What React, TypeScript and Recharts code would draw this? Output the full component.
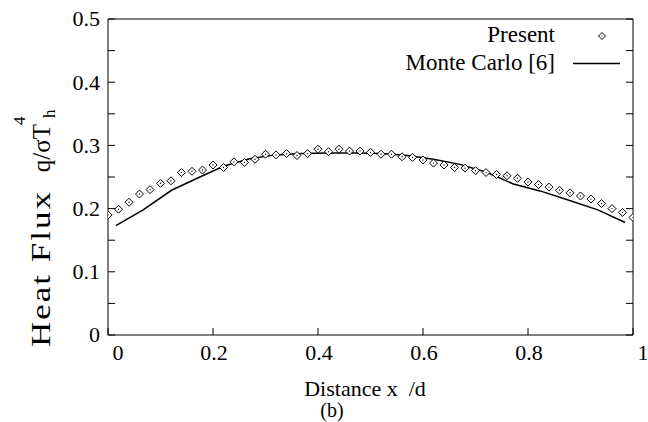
import React from "react"
import { ComposedChart, Line, Scatter, XAxis, YAxis, Legend } from "recharts"

const presentX = [
  0, 0.02, 0.04, 0.06, 0.08, 0.1, 0.12, 0.14, 0.16, 0.18,
  0.2, 0.22, 0.24, 0.26, 0.28, 0.3, 0.32, 0.34, 0.36, 0.38,
  0.4, 0.42, 0.44, 0.46, 0.48, 0.5, 0.52, 0.54, 0.56, 0.58,
  0.6, 0.62, 0.64, 0.66, 0.68, 0.7, 0.72, 0.74, 0.76, 0.78,
  0.8, 0.82, 0.84, 0.86, 0.88, 0.9, 0.92, 0.94, 0.96, 0.98,
  1,
]
const presentY = [
  0.19, 0.199, 0.21, 0.223, 0.23, 0.24, 0.244, 0.257, 0.259, 0.261,
  0.269, 0.265, 0.274, 0.273, 0.278, 0.286, 0.285, 0.287, 0.284, 0.287,
  0.294, 0.29, 0.294, 0.291, 0.291, 0.289, 0.286, 0.286, 0.282, 0.281,
  0.277, 0.272, 0.269, 0.265, 0.264, 0.26, 0.257, 0.254, 0.252, 0.248,
  0.242, 0.238, 0.234, 0.229, 0.225, 0.22, 0.215, 0.208, 0.2, 0.194,
  0.186,
]

const monteX = [
  0.015, 0.067, 0.121, 0.175, 0.22, 0.27, 0.32, 0.37, 0.42, 0.47,
  0.52, 0.57, 0.62, 0.67, 0.72, 0.772, 0.823, 0.875, 0.933, 0.985,
]
const monteY = [
  0.173, 0.198, 0.229, 0.25, 0.267, 0.279, 0.285, 0.287, 0.288, 0.288,
  0.287, 0.284, 0.278, 0.27, 0.258, 0.239, 0.228, 0.214, 0.198, 0.178,
]

const xTicks = [0, 0.2, 0.4, 0.6, 0.8, 1]
const yTicks = [0, 0.05, 0.1, 0.15, 0.2, 0.25, 0.3, 0.35, 0.4, 0.45, 0.5]

const present = presentX.map((x, i) => ({ x, y: presentY[i] }))
const monte = monteX.map((x, i) => ({ x, y: monteY[i] }))

const FONT = "'Liberation Serif', 'Times New Roman', serif"
const TL = 7

const fmt = (v: number) => String(Math.round(v * 10) / 10)

function Diamond(props: any) {
  const { cx, cy } = props
  if (cx == null || cy == null) return null
  const r = 4
  return (
    <g>
      <path d={`M${cx},${cy - r}L${cx + r},${cy}L${cx},${cy + r}L${cx - r},${cy}Z`} fill="#fff" stroke="#000" strokeWidth={1} />
      <circle cx={cx} cy={cy} r={0.7} fill="#000" />
    </g>
  )
}

function LeftTick(props: any) {
  const { x, y, payload } = props
  const v = payload.value
  const major = Math.abs(v * 10 - Math.round(v * 10)) < 1e-6
  return (
    <g>
      <line x1={x} x2={x + TL} y1={y} y2={y} stroke="#000" />
      {major && (
        <text x={x - 8} y={y} dy="0.34em" textAnchor="end" fontFamily={FONT} fontSize={22} fill="#000">
          {fmt(v)}
        </text>
      )}
    </g>
  )
}

function RightTick(props: any) {
  const { x, y } = props
  return <line x1={x - TL} x2={x} y1={y} y2={y} stroke="#000" />
}

function BottomTick(props: any) {
  const { x, y, payload } = props
  const v = payload.value
  // the end labels sit a bit to the right in the original
  const shift = v === 0 ? 10 : v === 1 ? 10 : 1
  return (
    <g>
      <line x1={x} x2={x} y1={y} y2={y - TL} stroke="#000" />
      <text x={x + shift} y={y + 25} textAnchor="middle" fontFamily={FONT} fontSize={22} fill="#000">
        {fmt(v)}
      </text>
    </g>
  )
}

function TopTick(props: any) {
  const { x, y } = props
  return <line x1={x} x2={x} y1={y} y2={y + TL} stroke="#000" />
}

function XTitle() {
  return (
    <g fontFamily={FONT} fill="#000">
      <text x={365} y={396} textAnchor="middle" fontSize={22} style={{ whiteSpace: "pre" }}>
        {"Distance x  /d"}
      </text>
      <text x={332} y={417} textAnchor="middle" fontSize={20}>
        (b)
      </text>
    </g>
  )
}

function YTitle() {
  return (
    <g fontFamily={FONT} fill="#000">
      <text transform="translate(50,347) rotate(-90) scale(1.3,1)" fontSize={27} letterSpacing={1.5}>
        Heat Flux
      </text>
      <text transform="rotate(-90)" x={-124} y={50} textAnchor="end" fontSize={25}>
        q/σT
      </text>
      <text transform="rotate(-90)" x={-118} y={55} fontSize={17}>
        h
      </text>
      <text transform="rotate(-90)" x={-125} y={25} fontSize={17}>
        4
      </text>
    </g>
  )
}

function KeyBox(props: any) {
  const names: string[] = (props.payload || []).map((p: any) => p.value)
  const present = names.find((n) => n.startsWith("Present")) || "Present"
  const mc = names.find((n) => n.startsWith("Monte")) || "Monte Carlo [6]"
  const r = 3.5
  return (
    <svg width={240} height={60} style={{ display: "block" }}>
      <g fontFamily={FONT} fontSize={23} fill="#000">
        <text x={155} y={22} textAnchor="end">{present}</text>
        <text x={155} y={50} textAnchor="end">{mc}</text>
      </g>
      <path d={`M202,${16 - r}L${202 + r},16L202,${16 + r}L${202 - r},16Z`} fill="none" stroke="#000" />
      <circle cx={202} cy={16} r={0.6} fill="#000" />
      <line x1={173} x2={220} y1={43.5} y2={43.5} stroke="#000" strokeWidth={1.5} />
    </svg>
  )
}

export default function App() {
  return (
    <div style={{ position: "absolute", left: 0, top: 0, background: "#fff" }}>
      <ComposedChart width={648} height={422} margin={{ top: 0, right: 0, bottom: 0, left: 0 }}>
        <XAxis
          dataKey="x"
          type="number"
          domain={[0, 1]}
          ticks={xTicks}
          height={87}
          tickSize={0}
          tickMargin={0}
          tickLine={false}
          tick={<BottomTick />}
          stroke="#000"
          label={<XTitle />}
          allowDataOverflow
        />
        <XAxis
          xAxisId="top"
          orientation="top"
          type="number"
          domain={[0, 1]}
          ticks={xTicks}
          height={19}
          tickSize={0}
          tickMargin={0}
          tickLine={false}
          tick={<TopTick />}
          stroke="#000"
          allowDataOverflow
        />
        <YAxis
          type="number"
          domain={[0, 0.5]}
          ticks={yTicks}
          width={108}
          tickSize={0}
          tickMargin={0}
          tickLine={false}
          tick={<LeftTick />}
          stroke="#000"
          label={<YTitle />}
          allowDataOverflow
        />
        <YAxis
          yAxisId="right"
          orientation="right"
          type="number"
          domain={[0, 0.5]}
          ticks={yTicks}
          width={15}
          tickSize={0}
          tickMargin={0}
          tickLine={false}
          tick={<RightTick />}
          stroke="#000"
          allowDataOverflow
        />
        <Legend
          layout="vertical"
          align="center"
          verticalAlign="middle"
          content={<KeyBox />}
          wrapperStyle={{ position: "absolute", left: 400, top: 20, width: 240, height: 60 }}
        />
        <Line
          name="Monte Carlo [6]"
          data={monte}
          dataKey="y"
          type="linear"
          stroke="#000"
          strokeWidth={1.5}
          dot={false}
          isAnimationActive={false}
        />
        <Scatter name="Present" data={present} dataKey="y" shape={<Diamond />} isAnimationActive={false} />
      </ComposedChart>
    </div>
  )
}
